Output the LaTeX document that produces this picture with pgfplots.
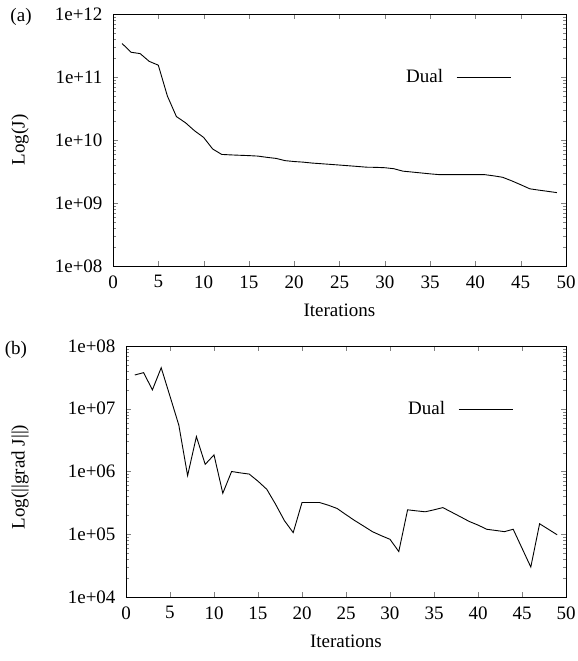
\documentclass[border=0pt]{standalone}
\usepackage{fontspec}
\setmainfont{Liberation Serif}
\usepackage{pgfplots}
\pgfplotsset{compat=1.18}
\pgfplotstableread{
it J
1 3.4e11
2 2.47e11
3 2.35e11
4 1.77e11
5 1.54e11
6 5.0e10
7 2.35e10
8 1.88e10
9 1.4e10
10 1.1e10
11 7.2e9
12 5.9e9
13 5.8e9
14 5.72e9
15 5.65e9
16 5.55e9
17 5.3e9
18 5.1e9
19 4.7e9
20 4.55e9
21 4.45e9
22 4.3e9
23 4.2e9
24 4.1e9
25 4.0e9
26 3.9e9
27 3.8e9
28 3.7e9
29 3.68e9
30 3.63e9
31 3.5e9
32 3.2e9
33 3.1e9
34 3.0e9
35 2.9e9
36 2.82e9
37 2.82e9
38 2.82e9
39 2.82e9
40 2.82e9
41 2.82e9
42 2.7e9
43 2.56e9
44 2.25e9
45 1.95e9
46 1.68e9
47 1.6e9
48 1.53e9
49 1.46e9
}\tableJ
\pgfplotstableread{
it G
1 3.45e7
2 3.76e7
3 2.0e7
4 4.5e7
5 1.58e7
6 5.5e6
7 8.6e5
8 3.6e6
9 1.3e6
10 1.84e6
11 4.5e5
12 1.0e6
13 9.5e5
14 9.1e5
15 7.0e5
16 5.2e5
17 3.0e5
18 1.65e5
19 1.06e5
20 3.2e5
21 3.2e5
22 3.2e5
23 2.9e5
24 2.57e5
25 2.05e5
26 1.65e5
27 1.35e5
28 1.1e5
29 9.5e4
30 8.3e4
31 5.3e4
32 2.45e5
33 2.36e5
34 2.28e5
35 2.45e5
36 2.66e5
37 2.25e5
38 1.9e5
39 1.6e5
40 1.4e5
41 1.2e5
42 1.15e5
43 1.1e5
44 1.2e5
45 6.0e4
46 3.0e4
47 1.47e5
48 1.2e5
49 9.8e4
}\tableG
\begin{document}
\begin{tikzpicture}[font=\fontsize{19}{22}\selectfont]
\path[use as bounding box] (0pt,0pt) rectangle (578pt,661pt);
\begin{axis}[
  at={(113pt,395pt)}, anchor=south west, width=453pt, height=252pt,
  scale only axis,
  ymode=log,
  xmin=0, xmax=50, ymin=1e8, ymax=1e12,
  xtick={0,5,10,15,20,25,30,35,40,45,50},
  xticklabels={0,5,10,15,20,25,30,35,40,45,50},
  ytick={1e8,1e9,1e10,1e11,1e12},
  yticklabels={1e+08,1e+09,1e+10,1e+11,1e+12},
  minor ytick={2e8,3e8,4e8,5e8,6e8,7e8,8e8,9e8,2e9,3e9,4e9,5e9,6e9,7e9,8e9,9e9,2e10,3e10,4e10,5e10,6e10,7e10,8e10,9e10,2e11,3e11,4e11,5e11,6e11,7e11,8e11,9e11},
  tick align=inside,
  major tick length=5pt,
  minor tick length=3pt,
  axis line style={line width=0.8pt},
  xticklabel style={yshift=-6pt},
  yticklabel style={xshift=-7pt},
  xlabel={Iterations},
  xlabel style={at={(axis description cs:0.5,-0.175)}, anchor=center},
  ylabel={Log(J)},
  ylabel style={at={(axis description cs:-0.205,0.5)}, anchor=center, rotate=0},
  legend plot pos=right,
  legend image code/.code={\draw[#1] (0pt,0pt) -- (54pt,0pt);},
  legend style={draw=none, fill=none, inner sep=0pt, anchor=east, at={(0.879,0.75)}},
  clip=false]
\addplot[black, line width=0.9pt] table[x=it, y=J] {\tableJ};
\addlegendentry{Dual\rule{11pt}{0pt}}
\node at (axis description cs:-0.203,0.988) {(a)};
\end{axis}
\begin{axis}[
  at={(126pt,64pt)}, anchor=south west, width=440pt, height=251pt,
  scale only axis,
  ymode=log,
  xmin=0, xmax=50, ymin=1e4, ymax=1e8,
  xtick={0,5,10,15,20,25,30,35,40,45,50},
  xticklabels={0,5,10,15,20,25,30,35,40,45,50},
  ytick={1e4,1e5,1e6,1e7,1e8},
  yticklabels={1e+04,1e+05,1e+06,1e+07,1e+08},
  minor ytick={2e4,3e4,4e4,5e4,6e4,7e4,8e4,9e4,2e5,3e5,4e5,5e5,6e5,7e5,8e5,9e5,2e6,3e6,4e6,5e6,6e6,7e6,8e6,9e6,2e7,3e7,4e7,5e7,6e7,7e7,8e7,9e7},
  tick align=inside,
  major tick length=5pt,
  minor tick length=3pt,
  axis line style={line width=0.8pt},
  xticklabel style={yshift=-6pt},
  yticklabel style={xshift=-7pt},
  xlabel={Iterations},
  xlabel style={at={(axis description cs:0.5,-0.175)}, anchor=center},
  ylabel={Log(||grad J||)},
  ylabel style={at={(axis description cs:-0.241,0.478)}, anchor=center, rotate=0},
  legend plot pos=right,
  legend image code/.code={\draw[#1] (0pt,0pt) -- (54pt,0pt);},
  legend style={draw=none, fill=none, inner sep=0pt, anchor=east, at={(0.88,0.749)}},
  clip=false]
\addplot[black, line width=0.9pt] table[x=it, y=G] {\tableG};
\addlegendentry{Dual\rule{11pt}{0pt}}
\node at (axis description cs:-0.25,0.985) {(b)};
\end{axis}
\end{tikzpicture}
\end{document}
